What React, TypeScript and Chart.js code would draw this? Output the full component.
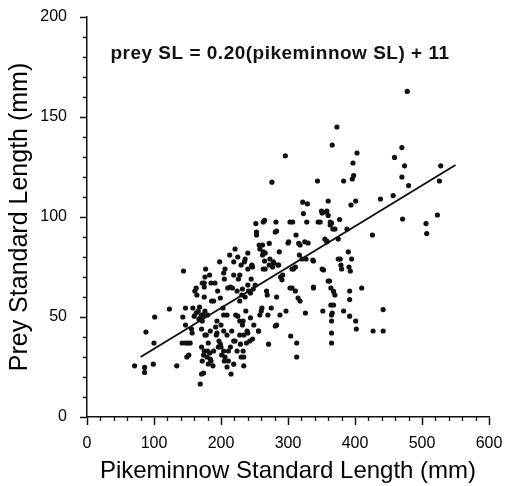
import React, { useEffect, useRef } from "react";
import { Chart, registerables } from "chart.js";

Chart.register(...registerables);

// Pikeminnow standard length (mm), x values of the observations
const pikeminnowSL: number[] = [
  71, 86, 86, 88, 99, 100, 101, 123, 134, 142, 143, 144, 147, 147, 149, 152, 154, 156, 157, 158,
  160, 161, 163, 164, 166, 167, 169, 171, 171, 171, 171, 174, 175, 177, 178, 179, 180, 181, 183, 184,
  185, 186, 188, 189, 191, 193, 194, 195, 196, 198, 199, 199, 200, 201, 203, 204, 205, 206, 206, 209,
  209, 210, 211, 213, 214, 215, 216, 217, 219, 219, 221, 221, 224, 225, 226, 228, 229, 231, 233, 233,
  234, 234, 235, 236, 237, 239, 240, 241, 243, 244, 245, 246, 247, 249, 251, 252, 253, 256, 257, 258,
  261, 263, 263, 265, 266, 268, 269, 270, 271, 272, 273, 275, 276, 278, 281, 281, 282, 283, 286, 287,
  288, 291, 292, 296, 297, 301, 303, 304, 306, 307, 308, 311, 312, 313, 313, 315, 316, 317, 318, 321,
  322, 323, 325, 326, 327, 328, 329, 337, 338, 344, 345, 350, 352, 353, 355, 357, 358, 360, 360, 362,
  363, 364, 364, 365, 365, 365, 365, 366, 367, 368, 370, 373, 375, 377, 378, 379, 383, 383, 388, 390,
  391, 392, 392, 392, 393, 394, 396, 397, 398, 401, 401, 402, 403, 410, 426, 427, 438, 442, 442, 457,
  459, 470, 470, 471, 474, 478, 480, 506, 507, 523, 526, 528,
  147, 151, 163, 168, 172, 176, 170, 175, 172, 172, 175, 181, 183, 184,
  246, 262, 265, 272, 277, 285, 204, 219, 228, 176, 214, 232, 236, 240, 244, 248, 175, 189, 173, 204,
  222, 228, 232, 228, 234, 240, 238, 260, 256, 283, 192, 194, 197, 200, 204, 205, 209, 211, 219, 224,
  230, 176, 180, 185, 174,
  258, 262, 266, 279, 300, 318, 330, 338, 358, 375, 225, 230, 240, 247, 263, 289, 306, 311, 351, 360,
  303, 338, 365, 253, 283, 351, 358, 363, 370, 348, 366, 368, 395, 380,
];

// Prey standard length (mm), y values of the observations
const preySL: number[] = [
  25.6, 24.8, 22.3, 42.5, 26.4, 37, 50, 54, 25.6, 37, 50, 73, 54.5, 46, 30, 31, 37, 44, 42, 54.5,
  50.4, 63, 64.5, 61, 53, 49, 16.5, 21.5, 35, 44, 51, 31, 67, 74, 41, 30, 51, 37, 71, 29,
  67, 58, 25.6, 33, 67, 41, 48, 63, 35, 77.6, 59.5, 36.4, 46, 31, 54.5, 43, 69, 74, 30, 51,
  41, 64.5, 28, 81, 35, 21.5, 43, 64.5, 77.6, 26.4, 84, 38, 63, 50.4, 69, 58, 36.4, 61, 48, 33,
  25.6, 30, 77.6, 79, 53, 43, 74, 63, 38, 49.6, 69, 75.7, 39, 46, 66, 96.7, 92.5, 43, 86, 51,
  54.5, 97.5, 82.6, 98.3, 74, 63, 61, 51, 36.4, 86.8, 79, 54.5, 117.4, 77.6, 92.5, 45.5, 97.5, 60, 76, 82.6,
  51, 68.6, 71, 130.6, 53, 87.6, 97.5, 40.5, 64.5, 97.5, 74, 63, 91, 37, 30, 59.5, 86.8, 81, 58, 79,
  107.4, 101.7, 87.6, 52, 79, 97.5, 106.6, 78.5, 65, 118, 97.5, 103, 53, 73.5, 89, 102.5, 87.6, 100.8, 108, 68,
  97.5, 64.5, 56, 51, 48, 42, 37, 136, 94, 62.8, 61, 145, 89, 98.7, 79, 76, 118, 53, 94, 82.6,
  75, 63, 58.7, 50.4, 73, 106, 119, 127, 120.7, 108, 48, 44, 132, 64.5, 91, 43, 109, 53.7, 43, 110.7,
  129.8, 134.7, 120, 99, 125.6, 162.8, 115.7, 96.7, 91.7, 101, 118, 125.6,
  37, 37, 52, 55, 48, 53, 50, 60, 67, 28, 33, 26.5, 32, 43,
  76, 81, 78, 76, 75, 76, 72, 71, 71, 70, 65, 64, 60, 66, 62, 64, 65, 58, 51, 51,
  51, 48, 46, 41, 41, 42, 37, 53, 43, 46, 45, 42, 38, 35, 33, 28, 25, 33, 38, 33,
  30, 41, 33, 28, 22,
  84, 86, 82, 77, 87, 86, 87, 78, 88, 79, 80, 76, 82, 75, 74, 70, 74, 75, 74, 68,
  64.5, 64.5, 97, 91, 93, 102, 103, 96, 94, 97.5, 52, 56, 79, 74,
];

// Fitted regression line end points
const fitX: number[] = [80, 550];
const fitY: number[] = [30, 126];

const xTickValues: number[] = [0, 100, 200, 300, 400, 500, 600];
const yTickValues: number[] = [0, 50, 100, 150, 200];

const equationText = "prey SL = 0.20(pikeminnow SL) + 11";
const xTitle = "Pikeminnow Standard Length (mm)";
const yTitle = "Prey Standard Length (mm)";

const FONT = "'Liberation Sans', Arial, Helvetica, sans-serif";

const minorTicks = {
  id: "minorTicks",
  afterDraw(chart: any) {
    const { ctx, chartArea, scales } = chart;
    const xs = scales.x;
    const ys = scales.y;
    ctx.save();
    ctx.strokeStyle = "#111";
    ctx.lineWidth = 1.3;
    ctx.beginPath();
    for (let v = 10; v < 200; v += 10) {
      if (v % 50 === 0) continue;
      const py = Math.round(ys.getPixelForValue(v)) + 0.5;
      ctx.moveTo(chartArea.left - 4, py);
      ctx.lineTo(chartArea.left, py);
    }
    for (let v = 20; v < 600; v += 20) {
      if (v % 100 === 0) continue;
      const px = Math.round(xs.getPixelForValue(v)) + 0.5;
      ctx.moveTo(px, chartArea.bottom);
      ctx.lineTo(px, chartArea.bottom + 4);
    }
    ctx.stroke();
    // equation
    ctx.fillStyle = "#111";
    ctx.font = `bold 19px ${FONT}`;
    try {
      (ctx as any).letterSpacing = "0.5px";
    } catch (e) {}
    ctx.textAlign = "left";
    ctx.textBaseline = "middle";
    ctx.fillText(equationText, xs.getPixelForValue(35), ys.getPixelForValue(181.5));
    ctx.restore();
  },
};

export default function App() {
  const ref = useRef<HTMLCanvasElement | null>(null);

  useEffect(() => {
    if (!ref.current) return;
    const pts = pikeminnowSL.map((x, i) => ({ x, y: preySL[i] }));
    const line = fitX.map((x, i) => ({ x, y: fitY[i] }));
    const chart = new Chart(ref.current, {
      type: "scatter",
      data: {
        datasets: [
          {
            data: pts,
            pointRadius: 2.6,
            pointBackgroundColor: "#111",
            pointBorderColor: "#111",
            pointBorderWidth: 0,
          },
          {
            type: "line",
            data: line,
            showLine: true,
            borderColor: "#111",
            borderWidth: 2,
            pointRadius: 0,
            fill: false,
          } as any,
        ],
      },
      options: {
        responsive: false,
        animation: false,
        layout: { padding: { top: 17, right: 16, left: 0, bottom: 0 } },
        plugins: { legend: { display: false }, tooltip: { enabled: false } },
        scales: {
          x: {
            type: "linear",
            min: 0,
            max: 600,
            afterBuildTicks: (s: any) => {
              s.ticks = xTickValues.map((v) => ({ value: v }));
            },
            afterFit: (s: any) => {
              s.height = 69;
              s.paddingLeft = 0;
              s.paddingRight = 0;
            },
            ticks: { color: "#000", font: { family: FONT, size: 16 }, padding: 9, maxRotation: 0 },
            grid: { drawOnChartArea: false, drawTicks: true, tickLength: 8, tickColor: "#111", tickWidth: 1.5 },
            border: { display: true, color: "#111", width: 1.5 },
            title: {
              display: true,
              text: xTitle,
              color: "#000",
              font: { family: FONT, size: 24 },
              padding: { top: 0, bottom: 0 },
            },
          },
          y: {
            type: "linear",
            min: 0,
            max: 200,
            afterBuildTicks: (s: any) => {
              s.ticks = yTickValues.map((v) => ({ value: v }));
            },
            afterFit: (s: any) => {
              s.width = 87;
              s.paddingTop = 0;
              s.paddingBottom = 0;
            },
            ticks: { color: "#000", font: { family: FONT, size: 16 }, padding: 13 },
            grid: { drawOnChartArea: false, drawTicks: true, tickLength: 7, tickColor: "#111", tickWidth: 1.5 },
            border: { display: true, color: "#111", width: 1.5 },
            title: {
              display: true,
              text: yTitle,
              color: "#000",
              font: { family: FONT, size: 25 },
              padding: { top: 5, bottom: 0 },
            },
          },
        },
      },
      plugins: [minorTicks],
    });
    return () => chart.destroy();
  }, []);

  return (
    <div style={{ position: "absolute", left: 0, top: 0, width: 505, height: 486, background: "#fff" }}>
      <canvas ref={ref} width={505} height={486} style={{ display: "block" }} />
    </div>
  );
}
